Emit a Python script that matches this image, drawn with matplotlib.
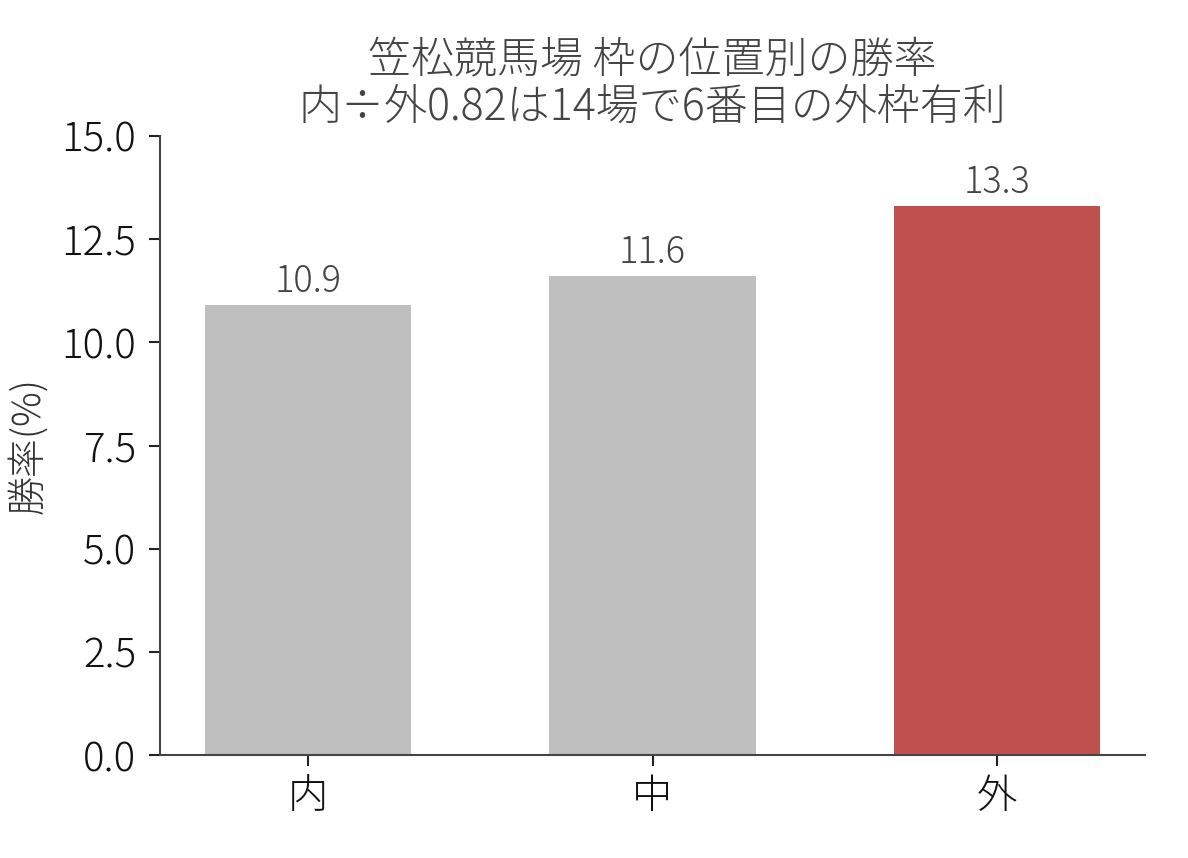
import matplotlib
matplotlib.use("Agg")
import matplotlib.pyplot as plt

plt.rcParams['font.family'] = ['Noto Sans CJK JP', 'DejaVu Sans']
plt.rcParams['font.weight'] = 'light'
plt.rcParams['axes.titleweight'] = 'light'
plt.rcParams['axes.labelweight'] = 'light'

categories = ['内', '中', '外']
win_rates = [10.9, 11.6, 13.3]
bar_colors = ['#bfbfbf', '#bfbfbf', '#c0504d']
title = '笠松競馬場 枠の位置別の勝率\n内÷外0.82は14場で6番目の外枠有利'
yticks = [0.0, 2.5, 5.0, 7.5, 10.0, 12.5, 15.0]

fig = plt.figure(figsize=(11.88, 8.58), dpi=100)
ax = fig.add_axes([0.1347, 0.1200, 0.8291, 0.7215])

x = range(len(categories))
bars = ax.bar(x, win_rates, width=0.6, color=bar_colors)
for b, v in zip(bars, win_rates):
    ax.text(b.get_x() + b.get_width() / 2, v + 0.1, f'{v:.1f}',
            ha='center', va='bottom', fontsize=26, color='#444444')

ax.set_xlim(-0.43, 2.43)
ax.set_ylim(0, 15)
ax.set_xticks(list(x))
ax.set_xticklabels(categories)
ax.set_yticks(yticks)
ax.set_yticklabels([f'{t:.1f}' for t in yticks])
ax.tick_params(labelsize=29, length=8, width=1.5, pad=7, color='#222222', labelcolor='#111111')
ax.tick_params(axis='y', pad=9)
ax.set_ylabel('勝率(%)', fontsize=28, color='#333333', labelpad=10)
ax.set_title(title, fontsize=31, color='#444444', linespacing=1.05, pad=12)

for side in ['top', 'right']:
    ax.spines[side].set_visible(False)
for side in ['left', 'bottom']:
    ax.spines[side].set_color('#444444')
    ax.spines[side].set_linewidth(1.5)

fig.savefig('out.png', dpi=100, facecolor='white')
